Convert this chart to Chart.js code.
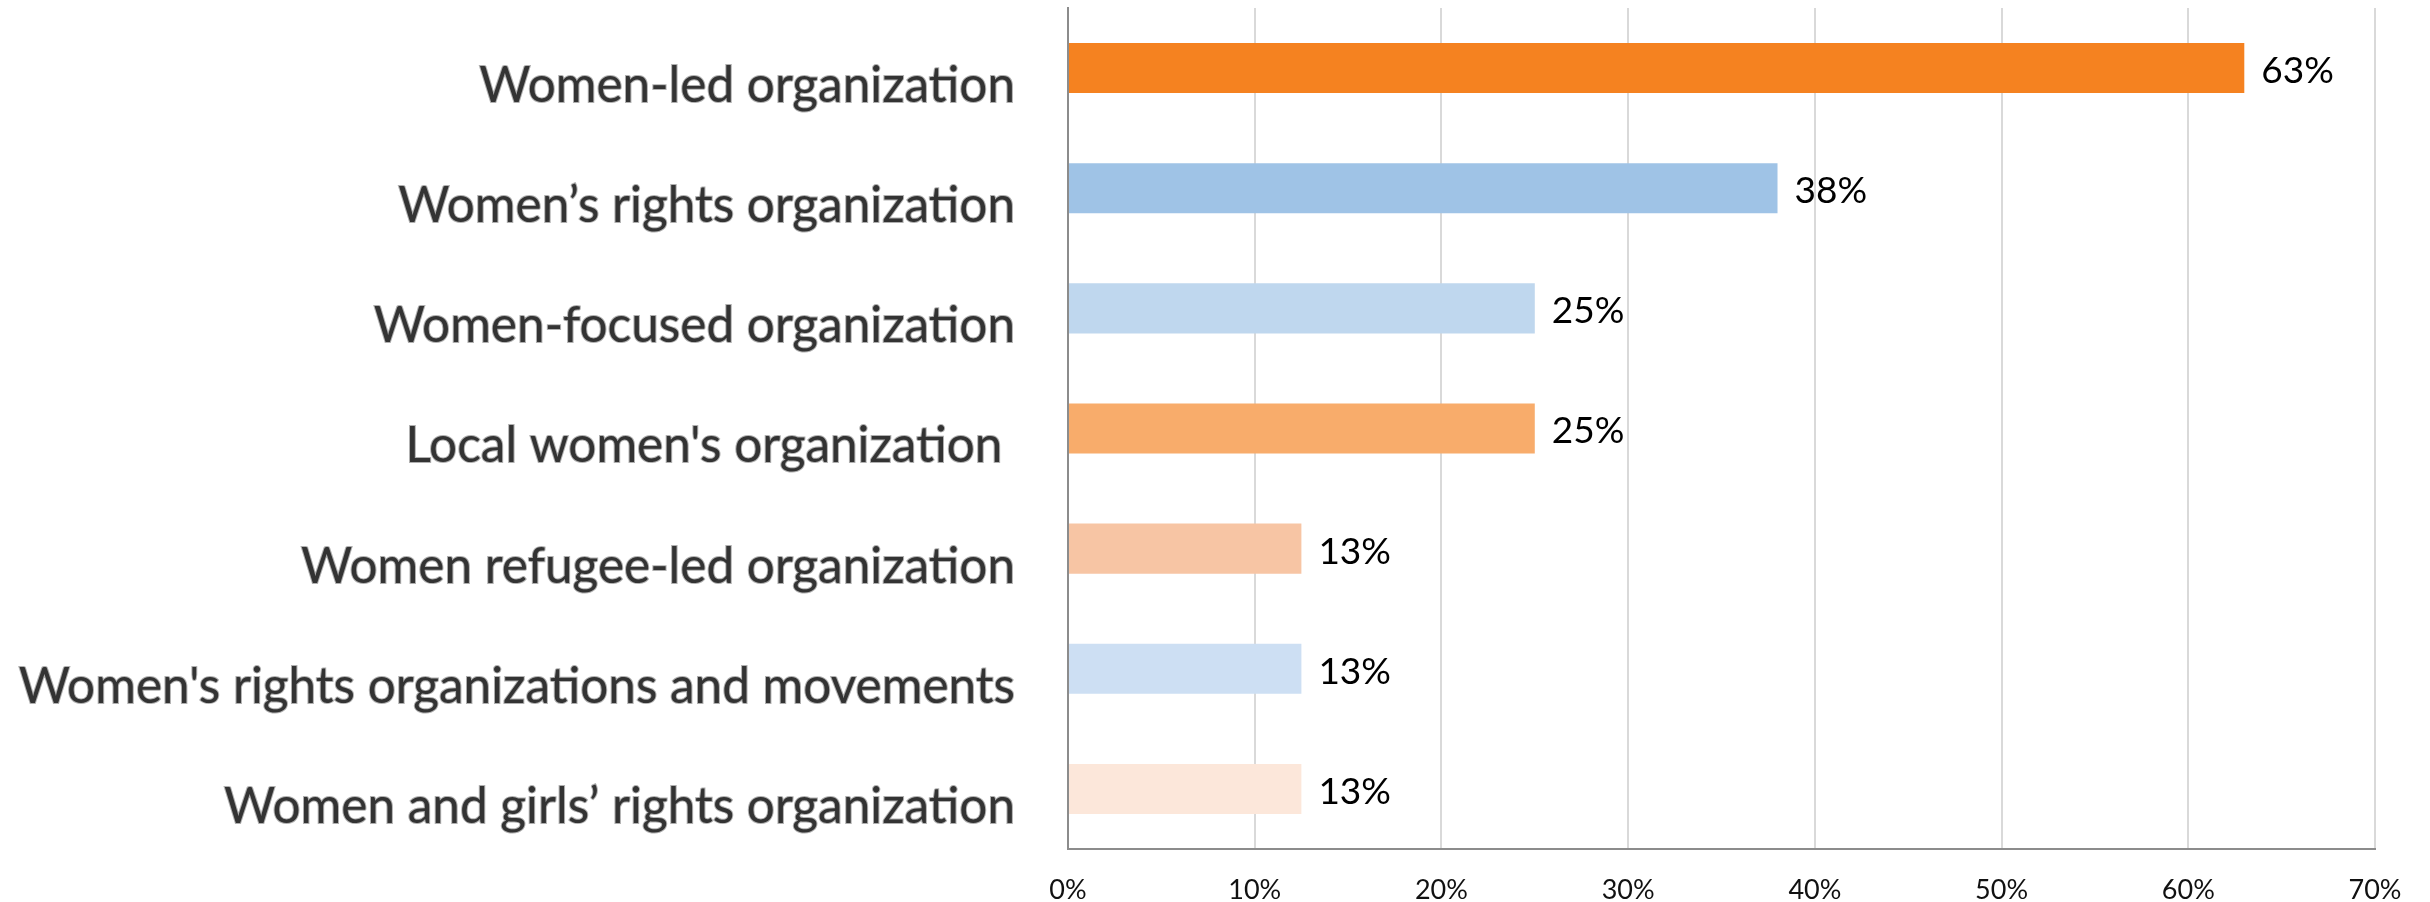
<!DOCTYPE html>
<html>
<head>
<meta charset="utf-8">
<style>
  html, body { margin: 0; padding: 0; background: #ffffff; }
  #wrap { width: 2430px; height: 902px; position: relative; }
</style>
<script src="https://cdn.jsdelivr.net/npm/chart.js@4.4.1/dist/chart.umd.min.js"></script>
</head>
<body>
<div id="wrap"><canvas id="c" width="2430" height="902"></canvas></div>
<script>
const categories = [
  "Women-led organization",
  "Women\u2019s rights organization",
  "Women-focused organization",
  "Local women's organization ",
  "Women refugee-led organization",
  "Women's rights organizations and movements",
  "Women and girls\u2019 rights organization"
];
const values = [63, 38, 25, 25, 12.5, 12.5, 12.5];
const barColors = ["#F58220", "#9FC3E6", "#BFD7EE", "#F8AC6B", "#F7C5A4", "#CDDFF3", "#FCE7DA"];
const xTickValues = [0, 10, 20, 30, 40, 50, 60, 70];

const valueLabels = {
  id: 'valueLabels',
  afterDatasetsDraw(chart) {
    const ctx = chart.ctx;
    const meta = chart.getDatasetMeta(0);
    ctx.save();
    ctx.font = '37px Lato';
    ctx.fillStyle = '#000000';
    ctx.textAlign = 'left';
    ctx.textBaseline = 'middle';
    meta.data.forEach((bar, i) => {
      ctx.fillText(Math.round(values[i]) + '%', bar.x + 17, bar.y + 3);
    });
    ctx.restore();
  }
};

new Chart(document.getElementById('c'), {
  type: 'bar',
  data: {
    labels: categories,
    datasets: [{
      data: values,
      backgroundColor: barColors,
      borderWidth: 0,
      categoryPercentage: 1,
      barPercentage: 0.417
    }]
  },
  options: {
    indexAxis: 'y',
    responsive: false,
    animation: false,
    devicePixelRatio: 1,
    layout: { padding: { top: 8, right: 55, left: 0, bottom: 0 } },
    plugins: { legend: { display: false }, tooltip: { enabled: false } },
    scales: {
      x: {
        min: 0, max: 70,
        afterBuildTicks(scale) { scale.ticks = xTickValues.map(v => ({ value: v })); },
        afterFit(scale) { scale.height = 53; scale.paddingLeft = 0; scale.paddingRight = 0; },
        grid: { color: '#D9D9D9', lineWidth: 2, drawTicks: false },
        border: { color: '#8C8C8C', width: 2 },
        ticks: {
          padding: 25,
          color: '#111111',
          font: { family: 'Lato', size: 27 },
          callback: v => v + '%'
        }
      },
      y: {
        afterFit(scale) { scale.width = 1068; scale.paddingTop = 0; scale.paddingBottom = 0; },
        grid: { display: false, drawTicks: false },
        border: { color: '#8C8C8C', width: 2 },
        ticks: {
          padding: 53,
          labelOffset: 18,
          color: '#333333',
          textStrokeColor: 'rgba(150,150,150,0.75)',
          textStrokeWidth: 2,
          font: { family: 'Lato', size: 49.5 }
        }
      }
    }
  },
  plugins: [valueLabels]
});
</script>
</body>
</html>
